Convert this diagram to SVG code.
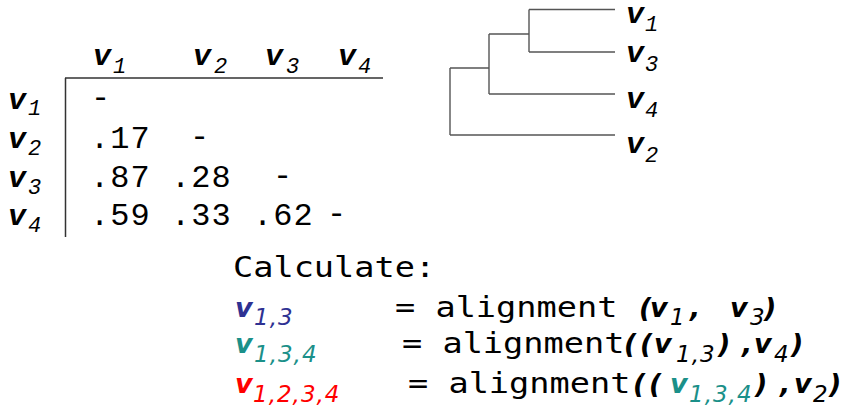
<svg xmlns="http://www.w3.org/2000/svg" width="856" height="411" viewBox="0 0 856 411">
<style>
.lab{font-family:"Liberation Mono","Courier New",Cousine,monospace;font-weight:bold;font-style:italic;font-size:30px;fill:#000}
.ls{font-family:"Liberation Mono","Courier New",Cousine,monospace;font-style:italic;font-size:22px;fill:#000}
.num{font-family:"Liberation Mono","Courier New",Cousine,monospace;font-size:32px;letter-spacing:1.1px;fill:#000}
.mono{font-family:"DejaVu Sans Mono",monospace;font-size:28px;fill:#000}
.it{font-family:"DejaVu Sans",sans-serif;font-style:italic;font-weight:bold;font-size:27px;fill:#000}
.sub{font-family:"DejaVu Sans",sans-serif;font-style:italic;font-size:23px;letter-spacing:1px;fill:#000}
.blue{fill:#2e3192}.teal{fill:#1b9089}.red{fill:#ff0000}
.ax{stroke:#333;stroke-width:1.5;fill:none}
.br{stroke:#555;stroke-width:1.4;fill:none}
</style>
<rect width="856" height="411" fill="#fff"/>
<g id="matrix">
  <g id="axes"><path class="ax" d="M65,78 H383 M65.5,78 V237"/></g>
  <g id="col-headers">
    <text class="lab" x="93" y="65">v</text><text class="ls" x="113" y="73">1</text>
    <text class="lab" x="193" y="65">v</text><text class="ls" x="214" y="73">2</text>
    <text class="lab" x="265" y="65">v</text><text class="ls" x="286" y="73">3</text>
    <text class="lab" x="338" y="65">v</text><text class="ls" x="358" y="73">4</text>
  </g>
  <g id="row-headers">
    <text class="lab" x="8" y="109">v</text><text class="ls" x="28" y="115">1</text>
    <text class="lab" x="8" y="148">v</text><text class="ls" x="28" y="155">2</text>
    <text class="lab" x="8" y="187">v</text><text class="ls" x="28" y="194">3</text>
    <text class="lab" x="8" y="225">v</text><text class="ls" x="28" y="232">4</text>
  </g>
  <g id="cells">
    <text class="num" x="91" y="107">-</text>
    <text class="num" x="90" y="148">.17</text><text class="num" x="190" y="146">-</text>
    <text class="num" x="90" y="187">.87</text><text class="num" x="171" y="187">.28</text><text class="num" x="273" y="185">-</text>
    <text class="num" x="90" y="225">.59</text><text class="num" x="171" y="225">.33</text><text class="num" x="253" y="225">.62</text><text class="num" x="327" y="223">-</text>
  </g>
</g>
<g id="tree">
  <g id="connectors">
    <path class="br" d="M529,9.5 H615 M529,9.5 V52 M529,52 H615"/>
    <path class="br" d="M489,34 H529 M489,34 V94 M489,94 H615"/>
    <path class="br" d="M450,68 H489 M450,68 V135 M450,135 H615"/>
  </g>
  <g id="leaf-v1"><text class="lab" x="626" y="23">v</text><text class="ls" x="645" y="31">1</text></g>
  <g id="leaf-v3"><text class="lab" x="626" y="62">v</text><text class="ls" x="645" y="71">3</text></g>
  <g id="leaf-v4"><text class="lab" x="626" y="108">v</text><text class="ls" x="645" y="117">4</text></g>
  <g id="leaf-v2"><text class="lab" x="626" y="153">v</text><text class="ls" x="645" y="162">2</text></g>
</g>
<g id="formulas">
  <text class="mono" transform="translate(233,277) scale(1.2,1)">Calculate:</text>
  <g id="line1">
    <text class="it blue" x="235" y="317">v</text><text class="sub blue" x="254" y="325">1,3</text>
    <text class="mono" transform="translate(395,317) scale(1.2,1)">= alignment</text>
    <text class="it" x="639" y="317">(</text><text class="it" x="650" y="317">v</text><text class="sub" x="670" y="325">1</text>
    <text class="it" x="690" y="317">,</text><text class="it" x="730" y="317">v</text><text class="sub" x="750" y="325">3</text>
    <text class="it" x="764" y="317">)</text>
  </g>
  <g id="line2">
    <text class="it teal" x="235" y="353">v</text><text class="sub teal" x="254" y="362">1,3,4</text>
    <text class="mono" transform="translate(402,353) scale(1.2,1)">= alignment</text>
    <text class="it" x="624" y="353">(</text><text class="it" x="640" y="353">(</text><text class="it" x="654" y="353">v</text><text class="sub" x="676" y="362">1,3</text>
    <text class="it" x="718" y="353">)</text><text class="it" x="742" y="353">,</text><text class="it" x="754" y="353">v</text><text class="sub" x="774" y="362">4</text>
    <text class="it" x="791" y="353">)</text>
  </g>
  <g id="line3">
    <text class="it red" x="235" y="393">v</text><text class="sub red" x="253" y="402">1,2,3,4</text>
    <text class="mono" transform="translate(408,393) scale(1.2,1)">= alignment</text>
    <text class="it" x="633" y="393">(</text><text class="it" x="649" y="393">(</text><text class="it teal" x="670" y="393">v</text><text class="sub teal" x="689" y="402">1,3,4</text>
    <text class="it" x="755" y="393">)</text><text class="it" x="780" y="393">,</text><text class="it" x="794" y="393">v</text><text class="sub" x="813" y="402">2</text>
    <text class="it" x="829" y="393">)</text>
  </g>
</g>
</svg>
